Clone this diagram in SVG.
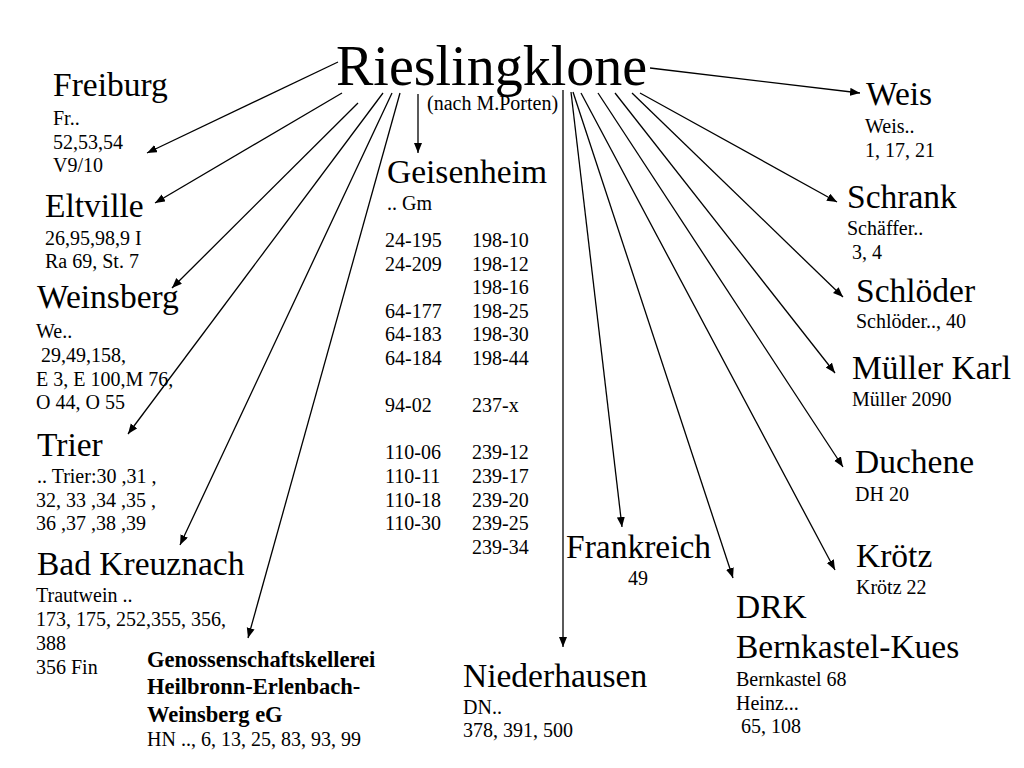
<svg xmlns="http://www.w3.org/2000/svg" width="1024" height="768" viewBox="0 0 1024 768">
<defs>
<marker id="ah" markerUnits="userSpaceOnUse" markerWidth="11" markerHeight="9" refX="10" refY="4" orient="auto">
<path d="M0,0 L10,4 L0,8 z" fill="#000"/>
</marker>
<style>
text{font-family:"Liberation Serif","Times New Roman",serif;fill:#000}
.t{font-size:56px}
.h{font-size:33.5px}
.s{font-size:20px}
.b{font-size:22.5px;font-weight:bold}
.c line{stroke:#000;stroke-width:1.3;marker-end:url(#ah)}
</style>
</defs>
<rect width="1024" height="768" fill="#fff"/>
<g id="connectors" class="c">
<line x1="338" y1="62" x2="147" y2="153"/>
<line x1="342" y1="93" x2="155" y2="203"/>
<line x1="358" y1="103" x2="172" y2="288"/>
<line x1="383" y1="93" x2="128" y2="434"/>
<line x1="392" y1="93" x2="180" y2="545"/>
<line x1="400" y1="93" x2="248" y2="638"/>
<line x1="418" y1="94" x2="418" y2="153"/>
<line x1="563" y1="90" x2="563" y2="647"/>
<line x1="571" y1="92" x2="622" y2="527"/>
<line x1="573" y1="92" x2="733" y2="578"/>
<line x1="581" y1="93" x2="835" y2="570"/>
<line x1="598" y1="93" x2="843" y2="467"/>
<line x1="615" y1="93" x2="835" y2="373"/>
<line x1="632" y1="93" x2="843" y2="297"/>
<line x1="640" y1="93" x2="837" y2="202"/>
<line x1="650" y1="68" x2="860" y2="93"/>
</g>
<g id="title">
<text class="t" x="336" y="85">Rieslingklone</text>
<text class="s" x="427" y="110">(nach M.Porten)</text>
</g>
<g id="freiburg">
<text class="h" x="53" y="96">Freiburg</text>
<text class="s" x="53" y="125">Fr..</text>
<text class="s" x="53" y="149">52,53,54</text>
<text class="s" x="53" y="172">V9/10</text>
</g>
<g id="eltville">
<text class="h" x="45" y="217">Eltville</text>
<text class="s" x="45" y="245">26,95,98,9 I</text>
<text class="s" x="45" y="268">Ra 69, St. 7</text>
</g>
<g id="weinsberg">
<text class="h" x="37" y="308">Weinsberg</text>
<text class="s" x="36" y="338">We..</text>
<text class="s" x="41" y="362">29,49,158,</text>
<text class="s" x="36" y="386">E 3, E 100,M 76,</text>
<text class="s" x="36" y="409">O 44, O 55</text>
</g>
<g id="trier">
<text class="h" x="37" y="456">Trier</text>
<text class="s" x="37" y="483">.. Trier:30 ,31 ,</text>
<text class="s" x="36" y="507">32, 33 ,34 ,35 ,</text>
<text class="s" x="36" y="530">36 ,37 ,38 ,39</text>
</g>
<g id="badkreuznach">
<text class="h" x="37" y="575">Bad Kreuznach</text>
<text class="s" x="36" y="602">Trautwein ..</text>
<text class="s" x="36" y="626">173, 175, 252,355, 356,</text>
<text class="s" x="36" y="650">388</text>
<text class="s" x="36" y="674">356 Fin</text>
</g>
<g id="genossenschaft">
<text class="b" x="147" y="667">Genossenschaftskellerei</text>
<text class="b" x="147" y="694">Heilbronn-Erlenbach-</text>
<text class="b" x="147" y="722">Weinsberg eG</text>
<text class="s" x="147" y="746">HN .., 6, 13, 25, 83, 93, 99</text>
</g>
<g id="geisenheim">
<text class="h" x="387" y="183">Geisenheim</text>
<text class="s" x="387" y="210">.. Gm</text>
<text class="s" x="385" y="247">24-195</text><text class="s" x="472" y="247">198-10</text>
<text class="s" x="385" y="270.6">24-209</text><text class="s" x="472" y="270.6">198-12</text>
<text class="s" x="472" y="294.2">198-16</text>
<text class="s" x="385" y="317.8">64-177</text><text class="s" x="472" y="317.8">198-25</text>
<text class="s" x="385" y="341.4">64-183</text><text class="s" x="472" y="341.4">198-30</text>
<text class="s" x="385" y="365">64-184</text><text class="s" x="472" y="365">198-44</text>
<text class="s" x="385" y="412.2">94-02</text><text class="s" x="472" y="412.2">237-x</text>
<text class="s" x="385" y="459.4">110-06</text><text class="s" x="472" y="459.4">239-12</text>
<text class="s" x="385" y="483">110-11</text><text class="s" x="472" y="483">239-17</text>
<text class="s" x="385" y="506.6">110-18</text><text class="s" x="472" y="506.6">239-20</text>
<text class="s" x="385" y="530.2">110-30</text><text class="s" x="472" y="530.2">239-25</text>
<text class="s" x="472" y="553.8">239-34</text>
</g>
<g id="niederhausen">
<text class="h" x="463" y="687">Niederhausen</text>
<text class="s" x="463" y="714">DN..</text>
<text class="s" x="463" y="737">378, 391, 500</text>
</g>
<g id="frankreich">
<text class="h" x="566" y="558">Frankreich</text>
<text class="s" x="628" y="585">49</text>
</g>
<g id="drk">
<text class="h" x="736" y="618">DRK</text>
<text class="h" x="736" y="658">Bernkastel-Kues</text>
<text class="s" x="736" y="686">Bernkastel 68</text>
<text class="s" x="736" y="710">Heinz...</text>
<text class="s" x="741" y="733">65, 108</text>
</g>
<g id="weis">
<text class="h" x="866" y="105">Weis</text>
<text class="s" x="865" y="133">Weis..</text>
<text class="s" x="865" y="157">1, 17, 21</text>
</g>
<g id="schrank">
<text class="h" x="847" y="208">Schrank</text>
<text class="s" x="847" y="235">Schäffer..</text>
<text class="s" x="852" y="259">3, 4</text>
</g>
<g id="schloeder">
<text class="h" x="856" y="302">Schlöder</text>
<text class="s" x="856" y="328">Schlöder.., 40</text>
</g>
<g id="mueller">
<text class="h" x="852" y="379">Müller Karl</text>
<text class="s" x="852" y="406">Müller 2090</text>
</g>
<g id="duchene">
<text class="h" x="855" y="473">Duchene</text>
<text class="s" x="855" y="501">DH 20</text>
</g>
<g id="kroetz">
<text class="h" x="856" y="567">Krötz</text>
<text class="s" x="856" y="594">Krötz 22</text>
</g>
</svg>
